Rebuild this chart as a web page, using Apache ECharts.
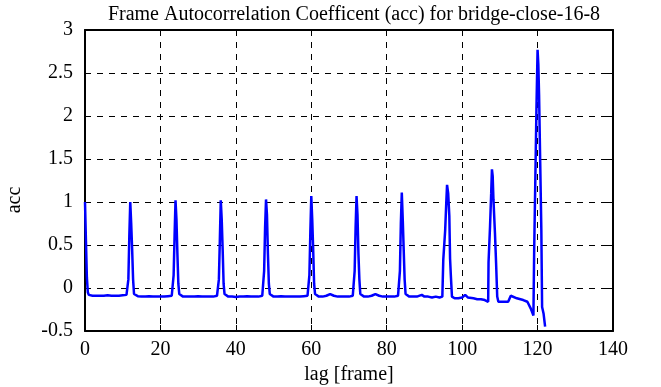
<!DOCTYPE html>
<html>
<head>
<meta charset="utf-8">
<script src="https://cdn.jsdelivr.net/npm/echarts@6/dist/echarts.min.js"></script>
<style>
  html, body { margin: 0; padding: 0; background: #fff; }
  #chart { width: 661px; height: 387px; }
</style>
</head>
<body>
<div id="chart"></div>
<script>
// lag values (frames) and autocorrelation
var lags = [
  0, 0.25, 0.5, 0.75, 1, 2, 3, 4, 5, 6, 7, 8, 9, 10, 11, 11.25,
  11.5, 11.75, 12, 12.25, 12.5, 12.75, 13,
  13.5, 14, 15, 16, 17, 18, 19, 20, 21, 22, 23, 23.25,
  23.5, 23.75, 24, 24.25, 24.5, 24.75, 25,
  25.5, 26, 27, 28, 29, 30, 31, 32, 33, 34, 35, 35.25,
  35.5, 35.75, 36, 36.25, 36.5, 36.75, 37,
  37.5, 38, 39, 40, 41, 42, 43, 44, 45, 46, 47, 47.25,
  47.5, 47.75, 48, 48.25, 48.5, 48.75, 49,
  49.5, 50, 51, 52, 53, 54, 55, 56, 57, 58, 59, 59.25,
  59.5, 59.75, 60, 60.25, 60.5, 60.75, 61,
  61.5, 62, 63, 64, 65, 66, 67, 68, 69, 70, 71, 71.25,
  71.5, 71.75, 72, 72.25, 72.5, 72.75, 73,
  73.5, 74, 75, 76, 77, 78, 79, 80, 81, 82, 83, 83.25,
  83.5, 83.75, 84, 84.25, 84.5, 84.75, 85,
  85.5, 86, 87, 88, 89.3, 90, 91, 92, 93, 94, 94.75,
  95, 95.5, 95.8, 96, 96.3, 96.6, 96.8, 97, 97.3,
  98, 99, 100, 100.8, 101.5, 102, 103, 104, 105, 106, 106.9,
  107, 107.4, 107.7, 107.9, 108.1, 108.3, 108.7, 109, 109.3, 109.6,
  110, 111, 112.2, 112.9, 114.5, 116.2, 117.3, 118.2, 118.9,
  119.1, 119.4, 119.7, 120, 120.2, 120.4, 120.7, 121, 121.2, 121.6, 122
];
var acc = [
  1.0, 0.55, 0.12, -0.05, -0.08, -0.09, -0.09, -0.09, -0.09, -0.085, -0.09, -0.09, -0.09, -0.085, -0.08, -0.07,
  0.1, 0.6, 1.0, 0.75, 0.45, 0.1, -0.07,
  -0.09, -0.095, -0.1, -0.1, -0.095, -0.1, -0.1, -0.1, -0.1, -0.095, -0.09, -0.08,
  0.15, 0.6, 1.02, 0.8, 0.4, 0.05, -0.07,
  -0.09, -0.1, -0.1, -0.1, -0.1, -0.095, -0.1, -0.1, -0.1, -0.1, -0.09, -0.08,
  0.1, 0.55, 1.02, 0.8, 0.45, 0.05, -0.07,
  -0.09, -0.1, -0.1, -0.105, -0.1, -0.1, -0.095, -0.1, -0.1, -0.1, -0.09, -0.09,
  0.2, 0.7, 1.03, 0.85, 0.4, 0.05, -0.07,
  -0.09, -0.1, -0.1, -0.095, -0.1, -0.1, -0.1, -0.1, -0.1, -0.095, -0.09, -0.08,
  0.15, 0.65, 1.07, 0.8, 0.45, 0.05, -0.07,
  -0.09, -0.1, -0.1, -0.09, -0.07, -0.09, -0.1, -0.1, -0.1, -0.1, -0.09, -0.08,
  0.2, 0.7, 1.07, 0.85, 0.4, 0.1, -0.07,
  -0.09, -0.1, -0.1, -0.09, -0.07, -0.09, -0.1, -0.1, -0.1, -0.1, -0.09, -0.08,
  0.2, 0.75, 1.11, 0.8, 0.45, 0.1, -0.07,
  -0.09, -0.1, -0.1, -0.1, -0.08, -0.1, -0.1, -0.11, -0.1, -0.11, -0.1,
  0.33, 0.67, 1.0, 1.2, 1.1, 0.84, 0.34, 0.15, -0.1,
  -0.12, -0.12, -0.11, -0.08, -0.11, -0.12, -0.12, -0.13, -0.13, -0.14, -0.16,
  0.3, 0.72, 1.1, 1.38, 1.3, 1.03, 0.64, 0.29, -0.1, -0.16,
  -0.16, -0.16, -0.16, -0.09, -0.12, -0.14, -0.16, -0.24, -0.32,
  0.44, 1.25, 2.08, 2.77, 2.6, 2.24, 1.46, 0.67, -0.22, -0.3, -0.45
];
var xTicks = { min: 0, max: 140, step: 20 };
var yTicks = { min: -0.5, max: 3, step: 0.5 };

var points = lags.map(function (x, i) { return [x, acc[i]]; });

var serif = "Liberation Serif";
var fs = 20;
var frameLine = { show: true, onZero: false, lineStyle: { color: "#000", width: 2 } };
var ticks = { show: true, inside: true, length: 6, lineStyle: { color: "#000", width: 1 } };
var dash = { show: true, lineStyle: { color: "#000", width: 1, type: [6, 6] } };

var chart = echarts.init(document.getElementById("chart"));
chart.setOption({
  animation: false,
  backgroundColor: "#fff",
  title: {
    text: "Frame Autocorrelation Coefficent (acc) for bridge-close-16-8",
    left: 349,
    textAlign: "center",
    top: 0,
    textStyle: { fontFamily: serif, fontSize: fs, fontWeight: "normal", color: "#000" }
  },
  // y axis title sits a little below the middle of the axis, as in the original
  graphic: [
    {
      type: "text",
      x: 15, y: 200,
      rotation: Math.PI / 2,
      style: {
        text: "acc", fontFamily: serif, fontSize: fs, fill: "#000",
        align: "center", verticalAlign: "middle"
      }
    }
  ],
  grid: { left: 85, right: 48, top: 30, bottom: 56, containLabel: false, outerBoundsMode: "none" },
  xAxis: [
    {
      type: "value",
      min: xTicks.min, max: xTicks.max, interval: xTicks.step,
      name: "lag [frame]",
      nameLocation: "middle",
      nameGap: 33,
      nameTextStyle: { fontFamily: serif, fontSize: fs, color: "#000" },
      axisLine: frameLine,
      axisTick: ticks,
      axisLabel: { fontFamily: serif, fontSize: fs, color: "#000", margin: 9 },
      splitLine: dash
    },
    {
      type: "value", position: "top",
      min: xTicks.min, max: xTicks.max, interval: xTicks.step,
      axisLine: frameLine,
      axisTick: ticks,
      axisLabel: { show: false },
      splitLine: { show: false }
    }
  ],
  yAxis: [
    {
      type: "value",
      min: yTicks.min, max: yTicks.max, interval: yTicks.step,
      axisLine: frameLine,
      axisTick: ticks,
      axisLabel: { fontFamily: serif, fontSize: fs, color: "#000", margin: 12 },
      splitLine: dash
    },
    {
      type: "value", position: "right",
      min: yTicks.min, max: yTicks.max, interval: yTicks.step,
      axisLine: frameLine,
      axisTick: ticks,
      axisLabel: { show: false },
      splitLine: { show: false }
    }
  ],
  series: [
    {
      type: "line",
      data: points,
      xAxisIndex: 0,
      yAxisIndex: 0,
      showSymbol: false,
      lineStyle: { color: "#0000ff", width: 2.5 },
      itemStyle: { color: "#0000ff" }
    }
  ]
});
</script>
</body>
</html>
